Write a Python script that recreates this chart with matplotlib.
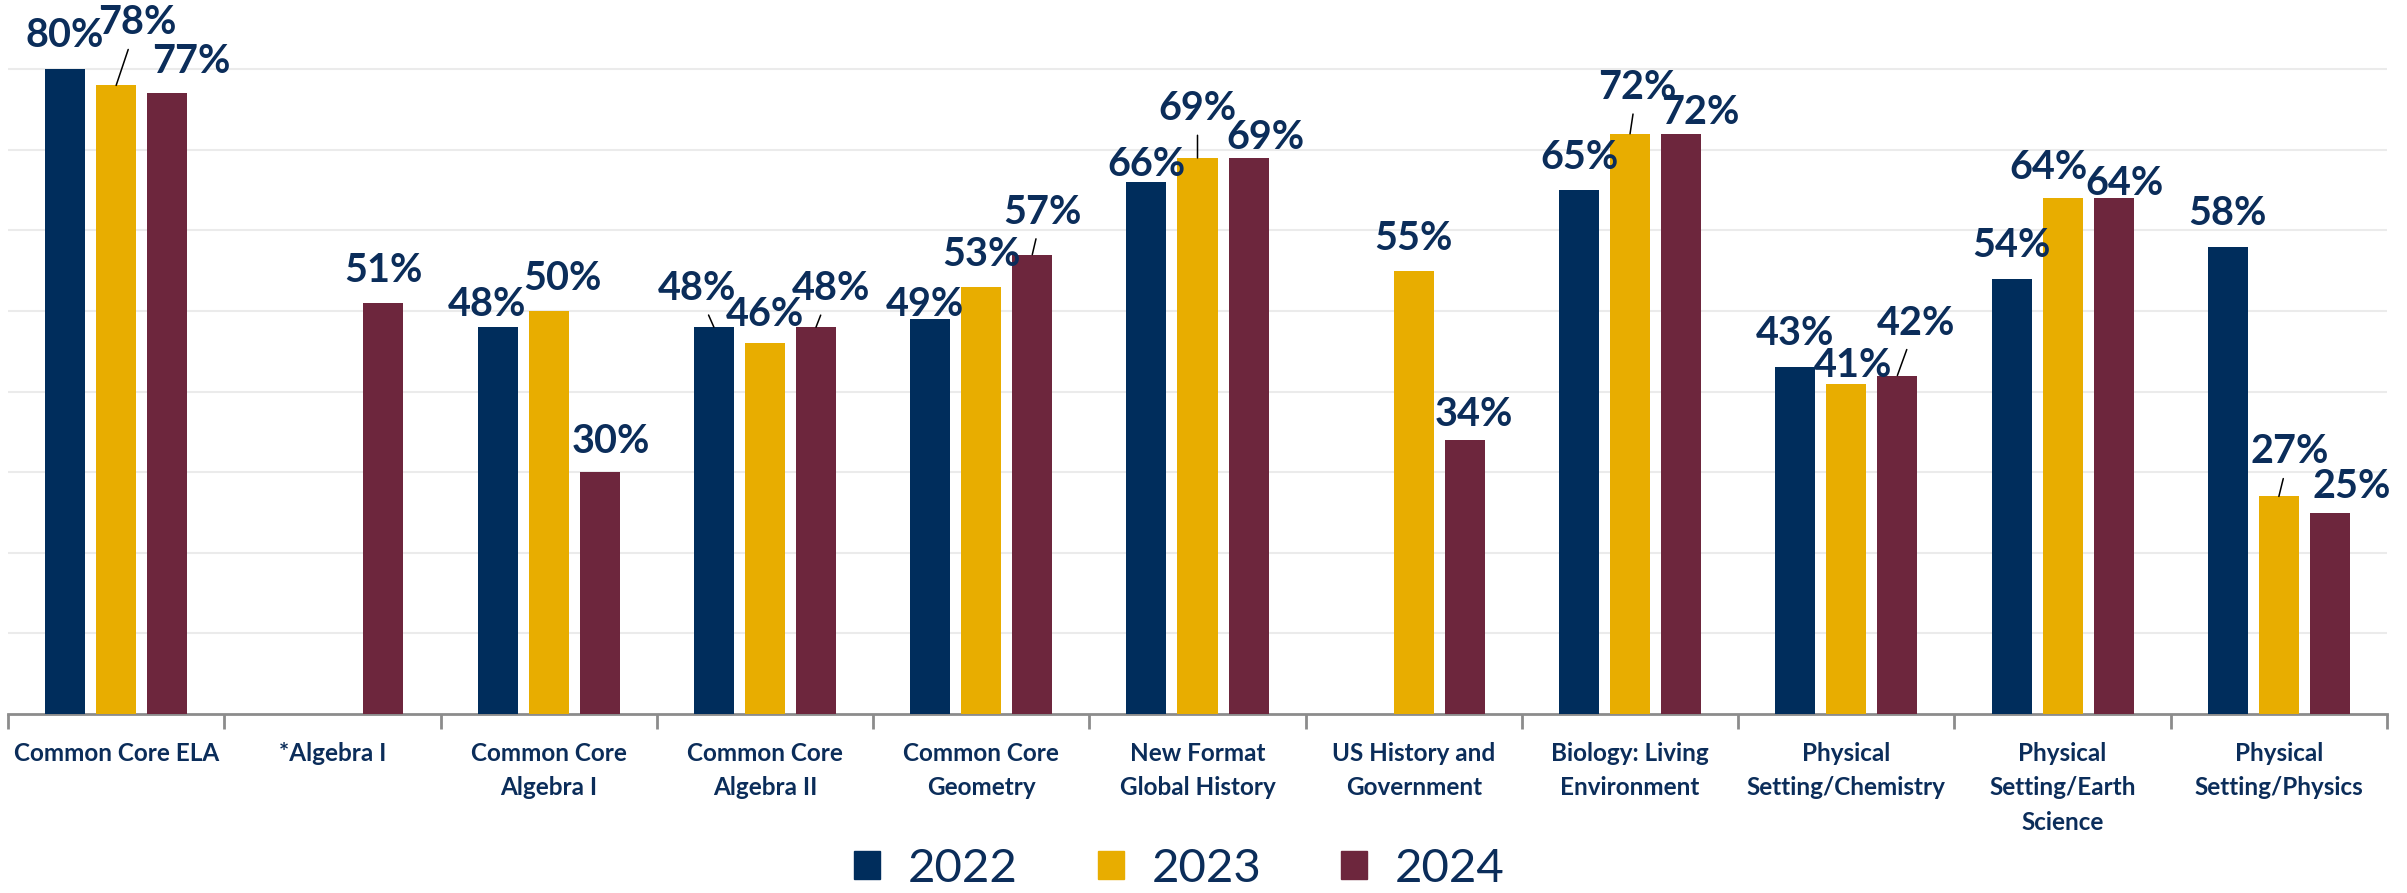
import numpy as np
import matplotlib.pyplot as plt
from matplotlib.patches import Patch

plt.rcParams['font.family'] = ['Lato', 'DejaVu Sans']

categories = ["Common Core ELA", "*Algebra I", "Common Core\nAlgebra I",
              "Common Core\nAlgebra II", "Common Core\nGeometry",
              "New Format\nGlobal History", "US History and\nGovernment",
              "Biology: Living\nEnvironment", "Physical\nSetting/Chemistry",
              "Physical\nSetting/Earth\nScience", "Physical\nSetting/Physics"]
years = ["2022", "2023", "2024"]
v2022 = [80, np.nan, 48, 48, 49, 66, np.nan, 65, 43, 54, 58]
v2023 = [78, np.nan, 50, 46, 53, 69, 55, 72, 41, 64, 27]
v2024 = [77, 51, 30, 48, 57, 69, 34, 72, 42, 64, 25]

colors = ["#002D5C", "#E8AD00", "#6D263D"]
txt_color = "#0B2D5A"

# label centre offsets from bar top (pixels), third item = leader line
offsets = {
    (0, 0): (0, 36), (0, 1): (21, 65, True), (0, 2): (24, 34),
    (1, 2): (0, 35),
    (2, 0): (-11, 25), (2, 1): (14, 35), (2, 2): (11, 33),
    (3, 0): (-17, 41, True), (3, 1): (0, 31), (3, 2): (15, 41, True),
    (4, 0): (-5, 17), (4, 1): (0, 35), (4, 2): (10, 45, True),
    (5, 0): (0, 20), (5, 1): (0, 52, True), (5, 2): (17, 23),
    (6, 1): (0, 35), (6, 2): (9, 28),
    (7, 0): (0, 35), (7, 1): (7, 49, True), (7, 2): (19, 24),
    (8, 0): (0, 36), (8, 1): (7, 21), (8, 2): (19, 55, True),
    (9, 0): (0, 36), (9, 1): (-14, 33), (9, 2): (11, 17),
    (10, 0): (0, 36), (10, 1): (11, 47, True), (10, 2): (22, 29),
}

fig = plt.figure(figsize=(24.07, 8.93), dpi=100)
ax = fig.add_axes([8 / 2407, 179 / 893, 2379 / 2407, 714 / 893])

x = np.arange(len(categories))
width = 0.185
shift = 0.236
handles = []
for j, vals in enumerate([v2022, v2023, v2024]):
    vals = np.array(vals, dtype=float)
    ax.bar(x + (j - 1) * shift, vals, width, color=colors[j], zorder=3)
    handles.append(Patch(color=colors[j], label=years[j]))
    for i, v in enumerate(vals):
        if np.isnan(v):
            continue
        off = offsets.get((i, j), (0, 35))
        leader = len(off) > 2 and off[2]
        ax.annotate(f"{v:.0f}%", xy=(x[i] + (j - 1) * shift, v),
                    xytext=(off[0], off[1] - 14), textcoords='offset pixels',
                    ha='center', va='baseline', fontsize=28.5, fontweight='bold',
                    color=txt_color, annotation_clip=False, zorder=5,
                    arrowprops=dict(arrowstyle='-', color='black', lw=1.1,
                                    shrinkA=4, shrinkB=0) if leader else None)

ax.set_xlim(-0.5, len(categories) - 0.5)
ax.set_ylim(0, 88.6)
ax.set_yticks(np.arange(10, 81, 10))
ax.yaxis.grid(True, color="#EBEBEB", lw=1.5, zorder=0)
ax.tick_params(axis='y', left=False, labelleft=False)
for s in ['top', 'right', 'left']:
    ax.spines[s].set_visible(False)
ax.spines['bottom'].set_color("#8C8C8C")
ax.spines['bottom'].set_linewidth(2)

ax.set_xticks(np.arange(-0.5, len(categories)), labels=[])
ax.tick_params(axis='x', which='major', length=11, width=2, color="#8C8C8C")
ax.set_xticks(x, minor=True)
ax.set_xticklabels(categories, minor=True, fontsize=17.5, fontweight='bold',
                   color=txt_color, linespacing=1.6, va='top')
ax.tick_params(axis='x', which='minor', length=0, pad=20)

fig.legend(handles=handles, loc='center', bbox_to_anchor=(0.49, 0.027),
           ncol=3, frameon=False, fontsize=34, labelcolor=txt_color,
           handlelength=0.55, handleheight=0.55, handletextpad=0.58,
           columnspacing=1.7)

fig.savefig("out.png", dpi=100)
